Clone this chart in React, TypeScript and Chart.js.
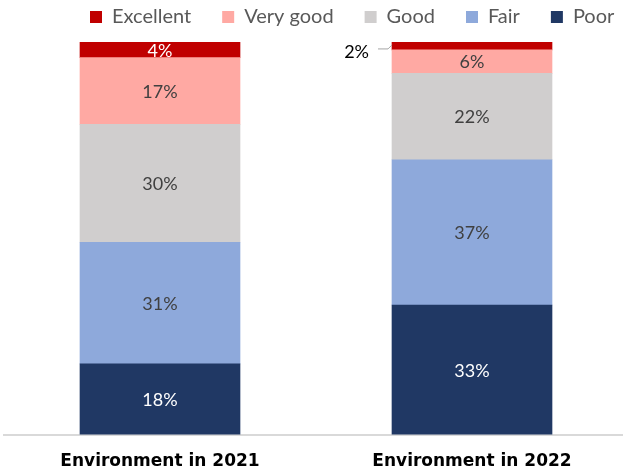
import React, { useEffect, useRef } from 'react';
import { Chart, registerables } from 'chart.js';

Chart.register(...registerables);

// ---- data ----
const categories = ['Environment in 2021', 'Environment in 2022'];
const seriesNames = ['Poor', 'Fair', 'Good', 'Very good', 'Excellent'];
const poor = [18, 33];
const fair = [31, 37];
const good = [30, 22];
const veryGood = [17, 6];
const excellent = [4, 2];
const seriesColors = ['#203864', '#8EA9DB', '#D0CECE', '#FFA9A3', '#C00000'];
const labelColors = ['#FFFFFF', '#404040', '#404040', '#404040', '#FFFFFF'];

const seriesValues = [poor, fair, good, veryGood, excellent];

const valueLabels = {
  id: 'valueLabels',
  afterDatasetsDraw(chart: any) {
    const ctx = chart.ctx;
    ctx.save();
    ctx.font = '18px Lato';
    ctx.textBaseline = 'middle';
    chart.data.datasets.forEach((ds: any, di: number) => {
      const meta = chart.getDatasetMeta(di);
      meta.data.forEach((bar: any, i: number) => {
        const v = ds.data[i];
        const { x, y, base, width } = bar.getProps(['x', 'y', 'base', 'width'], true);
        const cy = (y + base) / 2;
        const text = v + '%';
        if (Math.abs(base - y) < 12) {
          const left = x - width / 2;
          ctx.strokeStyle = '#A6A6A6';
          ctx.lineWidth = 1;
          ctx.beginPath();
          ctx.moveTo(left - 14, cy + 3);
          ctx.lineTo(left - 4, cy + 3);
          ctx.lineTo(left, cy - 1);
          ctx.stroke();
          ctx.fillStyle = '#000000';
          ctx.textAlign = 'right';
          ctx.fillText(text, left - 23, cy + 6);
        } else {
          ctx.fillStyle = labelColors[di];
          ctx.textAlign = 'center';
          ctx.fillText(text, x, cy + 1);
        }
      });
    });
    ctx.restore();
  },
};

const legendShift = {
  id: 'legendShift',
  afterLayout(chart: any) {
    const lg = chart.legend;
    if (!lg) return;
    lg.left += 55;
    lg.right += 55;
    lg.top -= 24;
  },
};

export default function App() {
  const ref = useRef<HTMLCanvasElement>(null);
  useEffect(() => {
    Chart.defaults.font.family = 'Lato';
    const chart = new Chart(ref.current as HTMLCanvasElement, {
      type: 'bar',
      data: {
        labels: categories,
        datasets: seriesNames.map((name, i) => ({
          label: name,
          data: seriesValues[i],
          backgroundColor: seriesColors[i],
          borderWidth: 0,
          barThickness: 160,
        })),
      },
      options: {
        responsive: false,
        animation: false,
        layout: { padding: { left: 4, right: 0, top: 0, bottom: 0 } },
        plugins: {
          tooltip: { enabled: false },
          legend: {
            position: 'top',
            align: 'start',
            reverse: true,
            maxHeight: 42,
            labels: {
              boxWidth: 12,
              boxHeight: 12,
              padding: 31,
              color: '#595959',
              font: { family: 'Lato', size: 20 },
            },
          },
        },
        scales: {
          x: {
            stacked: true,
            grid: { display: false, drawTicks: false },
            border: { display: true, color: '#D9D9D9', width: 2 },
            ticks: {
              color: '#000000',
              padding: 17,
              font: { family: 'DejaVu Sans', size: 17, weight: 'bold' },
            },
          },
          y: {
            stacked: true,
            display: false,
            min: 0,
            max: 100,
          },
        },
      },
      plugins: [valueLabels, legendShift],
    } as any);
    return () => chart.destroy();
  }, []);
  return (
    <div
      style={{
        position: 'absolute',
        left: 0,
        top: 0,
        width: 623,
        height: 472,
        overflow: 'hidden',
        background: '#ffffff',
      }}
    >
      <canvas ref={ref} width={628} height={489} style={{ display: 'block', width: 628, height: 489 }} />
    </div>
  );
}
